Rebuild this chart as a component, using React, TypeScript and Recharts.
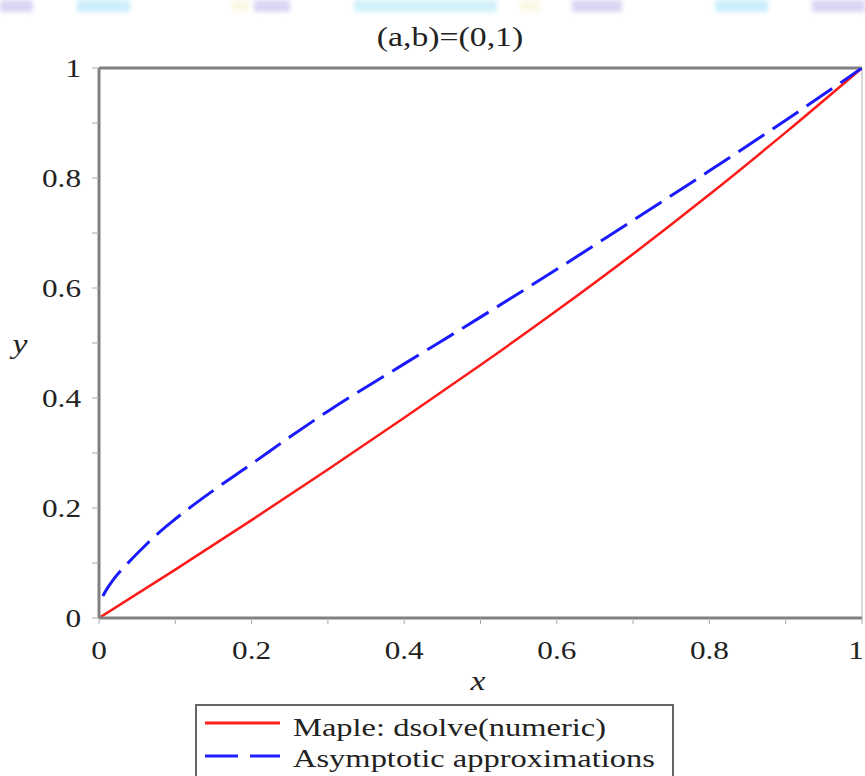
import { LineChart, Line, XAxis, YAxis, ReferenceLine, Legend } from 'recharts';

// numeric solution (red, solid)
const RED_X = [0, 0.1, 0.2, 0.3, 0.4, 0.5, 0.6, 0.7, 0.8, 0.9, 1];
const RED_Y = [0, 0.088, 0.178, 0.27, 0.364, 0.46, 0.559, 0.662, 0.77, 0.883, 1];

// asymptotic approximation (blue, dashed)
const BLUE_X = [0.005, 0.01, 0.02, 0.04, 0.06, 0.08, 0.1, 0.15, 0.2, 0.25, 0.3, 0.4, 0.5, 0.6, 0.7, 0.8, 0.9, 1];
const BLUE_Y = [0.04, 0.052, 0.072, 0.103, 0.131, 0.157, 0.18, 0.232, 0.28, 0.329, 0.376, 0.462, 0.547, 0.634, 0.723, 0.813, 0.905, 1];

const TICKS = [0, 0.1, 0.2, 0.3, 0.4, 0.5, 0.6, 0.7, 0.8, 0.9, 1];
const TICK_LABELS = ['0', '', '0.2', '', '0.4', '', '0.6', '', '0.8', '', '1'];

const SERIES_NAMES = ['Maple: dsolve(numeric)', 'Asymptotic approximations'];

const redData = RED_X.map((x, i) => ({ x, y: RED_Y[i] }));
const blueData = BLUE_X.map((x, i) => ({ x, y: BLUE_Y[i] }));

const FONT = '"Liberation Serif", "Times New Roman", serif';
const SX = 1.25; // the source picture is stretched sideways

// faint banner strip at the very top of the screenshot
const BANNER = [
  { l: 0, w: 33, c: '#dcd6f4' },
  { l: 77, w: 53, c: '#cdeefc' },
  { l: 232, w: 17, c: '#fbf8e6' },
  { l: 254, w: 36, c: '#dcd6f4' },
  { l: 354, w: 143, c: '#d3f1fb' },
  { l: 520, w: 20, c: '#fbf8e6' },
  { l: 572, w: 50, c: '#dcd6f4' },
  { l: 715, w: 53, c: '#cdeefc' },
  { l: 812, w: 53, c: '#dcd6f4' },
];

function XTick(props: any) {
  const { x, y, index } = props;
  const label = TICK_LABELS[index] ?? '';
  // last label sits on the right edge, nudge it in so it stays visible
  const dx = index === TICK_LABELS.length - 1 ? -5 : 0;
  return (
    <g transform={`translate(${x + dx},${y + 35}) scale(${SX},1)`}>
      <text textAnchor="middle" fontSize={25} fontFamily={FONT} fill="#222">
        {label}
      </text>
    </g>
  );
}

function YTick(props: any) {
  const { x, y, index } = props;
  const label = TICK_LABELS[index] ?? '';
  return (
    <g transform={`translate(${x - 11},${y + 9}) scale(${SX},1)`}>
      <text textAnchor="end" fontSize={25} fontFamily={FONT} fill="#222">
        {label}
      </text>
    </g>
  );
}

function LegendBox() {
  return (
    <svg width={480} height={75} style={{ display: 'block' }}>
      <rect x={1} y={1} width={477} height={80} fill="#fff" stroke="#666" strokeWidth={2} />
      <line x1={10} x2={85} y1={19} y2={19} stroke="#ff2020" strokeWidth={3} />
      <line x1={10} x2={85} y1={52} y2={52} stroke="#2020ff" strokeWidth={3} strokeDasharray="33 12" />
      <g transform={`translate(98,32) scale(${SX},1)`}>
        <text fontSize={26} fontFamily={FONT} fill="#222">{SERIES_NAMES[0]}</text>
      </g>
      <g transform={`translate(98,63) scale(${SX},1)`}>
        <text fontSize={26} fontFamily={FONT} fill="#222">{SERIES_NAMES[1]}</text>
      </g>
    </svg>
  );
}

export default function App() {
  return (
    <div style={{ position: 'absolute', left: 0, top: 0, width: 865, height: 776, background: '#fff', overflow: 'hidden' }}>
      {BANNER.map((b, i) => (
        <div
          key={i}
          style={{ position: 'absolute', left: b.l, top: 0, width: b.w, height: 12, background: b.c, filter: 'blur(2px)' }}
        />
      ))}
      <LineChart width={865} height={776} margin={{ top: 68, right: 3, bottom: 0, left: 0 }}>
        <XAxis
          dataKey="x"
          type="number"
          domain={[0, 1]}
          ticks={TICKS}
          height={158}
          tickSize={6}
          tickMargin={0}
          tickLine={{ stroke: '#aaa' }}
          axisLine={{ stroke: '#808080', strokeWidth: 3 }}
          tick={(p: any) => <XTick {...p} />}
          allowDataOverflow
        />
        <YAxis
          dataKey="y"
          type="number"
          domain={[0, 1]}
          ticks={TICKS}
          width={99}
          tickSize={7}
          tickMargin={0}
          tickLine={{ stroke: '#aaa' }}
          axisLine={{ stroke: '#808080', strokeWidth: 3 }}
          tick={(p: any) => <YTick {...p} />}
          allowDataOverflow
        />
        <ReferenceLine y={1} stroke="#808080" strokeWidth={3} ifOverflow="visible" />
        <ReferenceLine x={1} stroke="#b0b0b0" strokeWidth={1} ifOverflow="visible" />
        <Line
          data={redData}
          dataKey="y"
          name={SERIES_NAMES[0]}
          type="monotone"
          stroke="#ff1a1a"
          strokeWidth={2.5}
          dot={false}
          isAnimationActive={false}
        />
        <Line
          data={blueData}
          dataKey="y"
          name={SERIES_NAMES[1]}
          type="monotone"
          stroke="#1a1aff"
          strokeWidth={3}
          strokeDasharray="31 10"
          dot={false}
          isAnimationActive={false}
        />
        <Legend
          layout="horizontal"
          verticalAlign="middle"
          align="center"
          content={() => <LegendBox />}
          wrapperStyle={{ position: 'absolute', left: 195, top: 704, width: 480, height: 75 }}
        />
      </LineChart>
      <svg
        width={865}
        height={776}
        style={{ position: 'absolute', left: 0, top: 0, pointerEvents: 'none' }}
      >
        <g transform={`translate(450,46) scale(${SX},1)`}>
          <text textAnchor="middle" fontSize={27} fontFamily={FONT} fill="#222">(a,b)=(0,1)</text>
        </g>
        <g transform={`translate(478,690) scale(${SX},1)`}>
          <text textAnchor="middle" fontSize={27} fontStyle="italic" fontFamily={FONT} fill="#222">x</text>
        </g>
        <g transform={`translate(20,353) scale(${SX},1)`}>
          <text textAnchor="middle" fontSize={27} fontStyle="italic" fontFamily={FONT} fill="#222">y</text>
        </g>
      </svg>
    </div>
  );
}
